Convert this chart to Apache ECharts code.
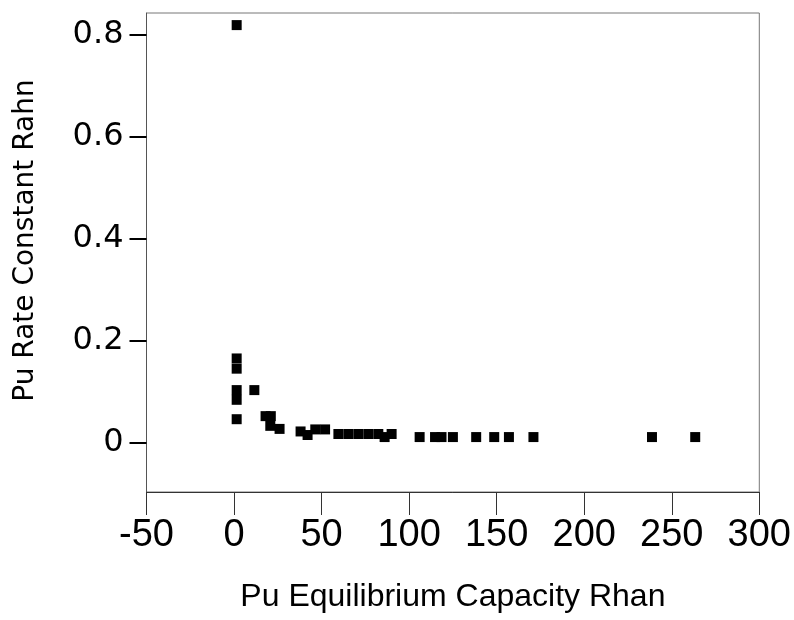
<!DOCTYPE html>
<html>
<head>
<meta charset="utf-8">
<script src="https://cdn.jsdelivr.net/npm/echarts@6/dist/echarts.min.js"></script>
<style>html,body{margin:0;padding:0;background:#fff;}#c{width:794px;height:620px;}</style>
</head>
<body>
<div id="c"></div>
<script>
// Data
const xValues = [1.5, 1.5, 1.5, 1.5, 1.5, 1.5, 11.6, 18, 21, 20.7, 26, 38, 42, 46.4, 52, 59.6, 65.3, 71, 76.7, 82.4, 86, 90, 106, 114.8, 118.5, 125, 138.3, 148.6, 157, 171, 238.7, 263.4];
const yValues = [0.818, 0.165, 0.145, 0.103, 0.084, 0.046, 0.103, 0.052, 0.052, 0.033, 0.027, 0.022, 0.015, 0.026, 0.026, 0.017, 0.017, 0.017, 0.017, 0.017, 0.011, 0.017, 0.011, 0.011, 0.011, 0.011, 0.011, 0.011, 0.011, 0.011, 0.011, 0.011];
const xTickValues = [-50, 0, 50, 100, 150, 200, 250, 300];
const yTickValues = [0, 0.2, 0.4, 0.6, 0.8];
const xTitle = 'Pu Equilibrium Capacity Rhan';
const yTitle = 'Pu Rate Constant Rahn';

const points = xValues.map((x, i) => [x, yValues[i]]);

const chart = echarts.init(document.getElementById('c'), null, {renderer: 'canvas'});
chart.setOption({
  animation: false,
  backgroundColor: '#fff',
  grid: {
    left: 146.5, right: 34.5, top: 13, bottom: 128,
    show: true, borderColor: '#777', borderWidth: 1, backgroundColor: 'transparent'
  },
  xAxis: {
    type: 'value',
    min: -50, max: 300, interval: 50,
    name: xTitle,
    nameLocation: 'middle',
    nameGap: 89,
    nameTextStyle: {fontFamily: 'Liberation Sans', fontSize: 32, color: '#000'},
    axisLine: {show: true, onZero: false, lineStyle: {color: '#333', width: 1}},
    axisTick: {show: true, inside: false, length: 23, customValues: xTickValues, lineStyle: {color: '#333', width: 1}},
    axisLabel: {margin: 25, fontFamily: 'Liberation Sans', fontSize: 38, color: '#000', customValues: xTickValues},
    splitLine: {show: false}
  },
  yAxis: {
    type: 'value',
    min: -0.0966, max: 0.8417,
    name: yTitle,
    nameLocation: 'middle',
    nameGap: 107,
    nameRotate: 90,
    nameTextStyle: {fontFamily: 'DejaVu Sans', fontSize: 28, color: '#000', padding: [0, 0, 0, 24]},
    axisLine: {show: true, onZero: false, lineStyle: {color: '#555', width: 1}},
    axisTick: {show: true, inside: false, length: 17, customValues: yTickValues, lineStyle: {color: '#000', width: 2}},
    axisLabel: {margin: 23, fontFamily: 'DejaVu Sans', fontSize: 32, color: '#000', customValues: yTickValues,
      formatter: v => (v === 0 ? '0' : String(v))},
    splitLine: {show: false}
  },
  series: [{
    type: 'scatter',
    data: points,
    symbol: 'rect',
    symbolSize: 10,
    itemStyle: {color: '#000', opacity: 1}
  }]
});
</script>
</body>
</html>
